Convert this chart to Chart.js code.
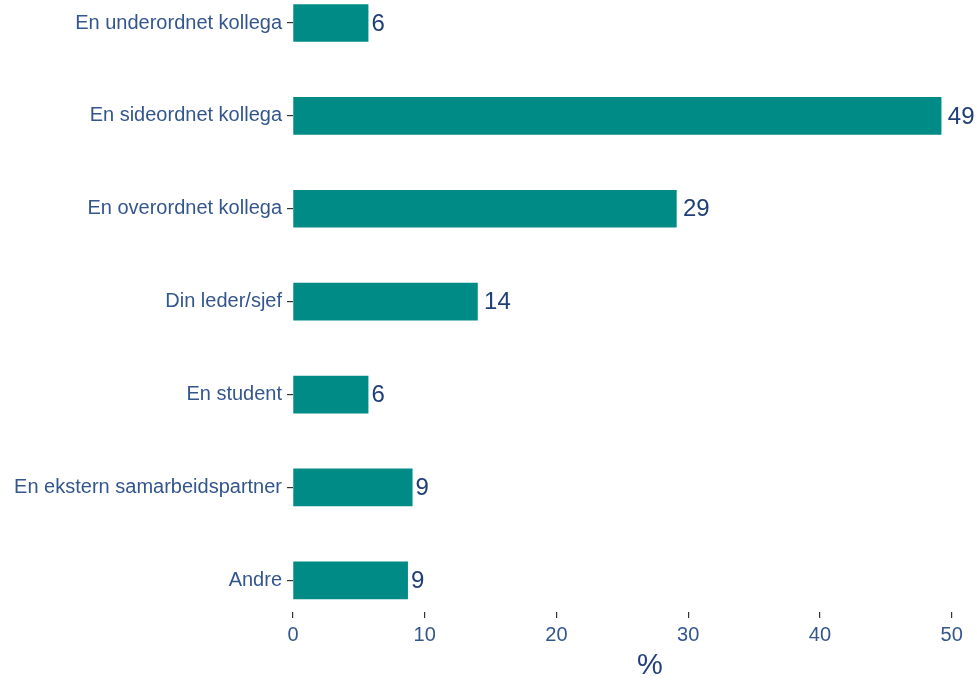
<!DOCTYPE html>
<html>
<head>
<meta charset="utf-8">
<script src="https://cdn.jsdelivr.net/npm/chart.js@4"></script>
<style>
  html, body { margin: 0; padding: 0; background: #fff; }
  #wrap { width: 977px; height: 682px; overflow: hidden; position: relative; }
  canvas { display: block; }
</style>
</head>
<body>
<div id="wrap"><canvas id="chart" width="1007" height="682"></canvas></div>
<script>
const categories = [
  'En underordnet kollega',
  'En sideordnet kollega',
  'En overordnet kollega',
  'Din leder/sjef',
  'En student',
  'En ekstern samarbeidspartner',
  'Andre'
];
const percentValues = [5.7, 49.2, 29.1, 14.0, 5.7, 9.05, 8.7];
const xTicks = [0, 10, 20, 30, 40, 50];

const textColor = '#33568d';
const labelColor = '#203f78';
const barColor = '#008b87';
const tickMarkColor = '#333333';

// Writes the rounded value just past the end of every bar
const valueLabels = {
  id: 'valueLabels',
  afterDatasetsDraw(chart) {
    const ctx = chart.ctx;
    const meta = chart.getDatasetMeta(0);
    ctx.save();
    ctx.font = '24px "Liberation Sans", Arial, sans-serif';
    ctx.fillStyle = labelColor;
    ctx.textAlign = 'left';
    ctx.textBaseline = 'middle';
    meta.data.forEach((bar, i) => {
      const text = String(Math.round(percentValues[i]));
      const w = ctx.measureText(text).width;
      ctx.fillText(text, bar.x + w * 0.25, bar.y + 1);
    });
    ctx.restore();
  }
};

const ctx = document.getElementById('chart').getContext('2d');

new Chart(ctx, {
  type: 'bar',
  data: {
    datasets: [{
      data: percentValues.map((v, i) => ({ x: v, y: i })),
      backgroundColor: barColor,
      borderWidth: 0,
      barThickness: 37,
      clip: false
    }]
  },
  options: {
    indexAxis: 'y',
    responsive: false,
    animation: false,
    layout: { padding: 0 },
    plugins: {
      legend: { display: false },
      tooltip: { enabled: false }
    },
    scales: {
      x: {
        type: 'linear',
        min: 0,
        max: 54.2,
        offset: false,
        afterFit: (scale) => {
          scale.height = 70;
          scale.paddingLeft = 0;
          scale.paddingRight = 0;
        },
        afterBuildTicks: (scale) => {
          scale.ticks = xTicks.map((v) => ({ value: v }));
        },
        border: { display: false },
        grid: {
          offset: false,
          drawOnChartArea: false,
          tickLength: 6,
          tickColor: tickMarkColor,
          lineWidth: 1.2
        },
        ticks: {
          padding: 5,
          color: textColor,
          font: { family: '"Liberation Sans", Arial, sans-serif', size: 20 }
        },
        title: {
          display: true,
          text: '%',
          color: labelColor,
          padding: { top: 0, bottom: 0 },
          font: { family: '"Liberation Sans", Arial, sans-serif', size: 29, lineHeight: 1.1 }
        }
      },
      y: {
        type: 'linear',
        reverse: true,
        min: -0.2476,
        max: 6.341,
        offset: false,
        afterFit: (scale) => {
          scale.width = 293;
          scale.paddingTop = 0;
          scale.paddingBottom = 0;
        },
        afterBuildTicks: (scale) => {
          scale.ticks = categories.map((_, i) => ({ value: i }));
        },
        border: { display: false },
        grid: {
          offset: false,
          drawOnChartArea: false,
          tickLength: 6,
          tickColor: tickMarkColor,
          lineWidth: 1.2
        },
        ticks: {
          padding: 5,
          autoSkip: false,
          color: textColor,
          font: { family: '"Liberation Sans", Arial, sans-serif', size: 20 },
          callback: (value) => categories[value]
        }
      }
    }
  },
  plugins: [valueLabels]
});
</script>
</body>
</html>
